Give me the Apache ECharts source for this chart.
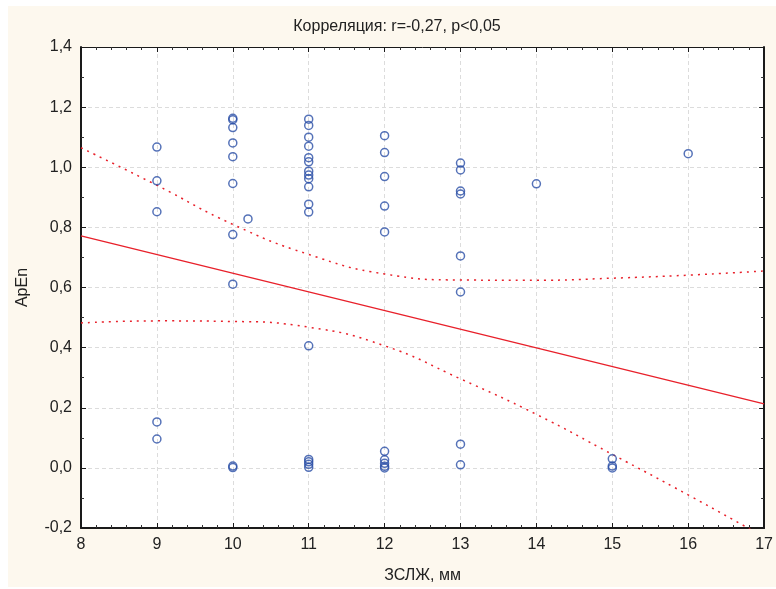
<!DOCTYPE html>
<html>
<head>
    <meta charset="utf-8">
    <title>ApEn vs ZSLZh</title>
    <script src="https://cdn.jsdelivr.net/npm/echarts@6/dist/echarts.min.js"></script>
    <style>
    html, body { margin: 0; padding: 0; background: #fff; }
    #main { width: 776px; height: 589px; }
    </style>
</head>
<body>
<div id="main"></div>
<script>
// scatter points
var zslzh = [
    9, 9, 9, 9, 9,
    10, 10, 10, 10, 10, 10, 10, 10, 10, 10,
    10.2,
    11, 11, 11, 11, 11, 11, 11, 11, 11, 11, 11, 11, 11, 11, 11, 11, 11,
    12, 12, 12, 12, 12, 12, 12, 12, 12, 12,
    13, 13, 13, 13, 13, 13, 13, 13,
    14,
    15, 15, 15,
    16
];
var apen = [
    1.067, 0.955, 0.852, 0.153, 0.096,
    1.163, 1.158, 1.132, 1.081, 1.035, 0.946, 0.776, 0.611, 0.006, 0.001,
    0.828,
    1.160, 1.139, 1.100, 1.070, 1.032, 1.018, 0.987, 0.974, 0.962, 0.935, 0.877, 0.851, 0.406, 0.028, 0.020, 0.012, 0.002,
    1.105, 1.049, 0.969, 0.871, 0.785, 0.055, 0.027, 0.015, 0.005, 0.000,
    1.014, 0.991, 0.921, 0.911, 0.705, 0.585, 0.079, 0.010,
    0.945,
    0.030, 0.006, 0.000,
    1.045
];

// regression line and 95% band, read at integer x
var fitX = [8, 17];
var fitY = [0.772, 0.213];
var bandX = [8, 9, 10, 11, 12, 13, 14, 15, 16, 17];
var upperY = [1.065, 0.940, 0.810, 0.710, 0.645, 0.625, 0.624, 0.631, 0.641, 0.655];
var lowerY = [0.482, 0.489, 0.487, 0.468, 0.406, 0.296, 0.178, 0.045, -0.090, -0.230];

var titleText = 'Корреляция: r=-0,27, p<0,05';
var xName = 'ЗСЛЖ, мм';
var yName = 'ApEn';

function pairs(xs, ys) {
    return xs.map(function (x, i) { return [x, ys[i]]; });
}

var font = '"Liberation Sans", Arial, sans-serif';
var fs = 16;
var gridLine = { show: true, lineStyle: { color: '#dcdcdc', type: [4, 3], width: 1 } };

var chart = echarts.init(document.getElementById('main'));
chart.setOption({
    animation: false,
    backgroundColor: '#ffffff',
    textStyle: { fontFamily: font },
    graphic: [{
        type: 'rect',
        z: -10,
        shape: { x: 8, y: 6, width: 768, height: 581 },
        style: { fill: '#fdf8ee' }
    }, {
        type: 'text',
        z: 10,
        x: 397, y: 27,
        style: {
            text: titleText, fill: '#222', textAlign: 'center', textVerticalAlign: 'middle',
            font: fs + 'px ' + font
        }
    }],
    grid: {
        left: 81, right: 7, top: 47, bottom: 60,
        show: true, backgroundColor: '#ffffff', borderWidth: 0
    },
    xAxis: [{
        type: 'value', min: 8, max: 17, interval: 1,
        name: xName, nameLocation: 'middle', nameGap: 40,
        nameTextStyle: { fontSize: fs, color: '#222' },
        axisLine: { show: true, onZero: false, lineStyle: { color: '#1a1a1a', width: 2 } },
        axisTick: { show: true, inside: true, length: 5, lineStyle: { color: '#1a1a1a' } },
        minorTick: { show: true, splitNumber: 5, length: 3, lineStyle: { color: '#333' } },
        axisLabel: { fontSize: fs, color: '#222', margin: 9 },
        splitLine: gridLine
    }, {
        type: 'value', min: 8, max: 17, interval: 1, position: 'top',
        axisLine: { show: true, onZero: false, lineStyle: { color: '#1a1a1a', width: 1 } },
        axisTick: { show: true, inside: true, length: 5, lineStyle: { color: '#1a1a1a' } },
        minorTick: { show: true, splitNumber: 5, length: 3, lineStyle: { color: '#333' } },
        axisLabel: { show: false },
        splitLine: { show: false }
    }],
    yAxis: [{
        type: 'value', min: -0.2, max: 1.4, interval: 0.2,
        name: yName, nameLocation: 'middle', nameGap: 50, nameRotate: 90,
        nameTextStyle: { fontSize: fs, color: '#222' },
        axisLine: { show: true, onZero: false, lineStyle: { color: '#1a1a1a', width: 2 } },
        axisTick: { show: true, inside: true, length: 5, lineStyle: { color: '#1a1a1a' } },
        minorTick: { show: true, splitNumber: 2, length: 3, lineStyle: { color: '#333' } },
        axisLabel: {
            fontSize: fs, color: '#222', margin: 9,
            formatter: function (v) { return v.toFixed(1).replace('.', ','); }
        },
        splitLine: gridLine
    }, {
        type: 'value', min: -0.2, max: 1.4, interval: 0.2, position: 'right',
        axisLine: { show: true, onZero: false, lineStyle: { color: '#1a1a1a', width: 2 } },
        axisTick: { show: true, inside: true, length: 5, lineStyle: { color: '#1a1a1a' } },
        minorTick: { show: true, splitNumber: 2, length: 3, lineStyle: { color: '#333' } },
        axisLabel: { show: false },
        splitLine: { show: false }
    }],
    series: [{
        type: 'line',
        data: pairs(bandX, upperY),
        smooth: true,
        showSymbol: false,
        clip: true,
        lineStyle: { color: '#e8202a', width: 1.5, type: [2, 5] },
        z: 2
    }, {
        type: 'line',
        data: pairs(bandX, lowerY),
        smooth: true,
        showSymbol: false,
        clip: true,
        lineStyle: { color: '#e8202a', width: 1.5, type: [2, 5] },
        z: 2
    }, {
        type: 'line',
        data: pairs(fitX, fitY),
        showSymbol: false,
        clip: true,
        lineStyle: { color: '#e8202a', width: 1.3 },
        z: 3
    }, {
        type: 'scatter',
        data: pairs(zslzh, apen),
        symbol: 'circle',
        symbolSize: 8,
        itemStyle: { color: 'rgba(0,0,0,0)', borderColor: '#2a4fa6', borderWidth: 1.5 },
        z: 4
    }]
});
</script>
</body>
</html>
